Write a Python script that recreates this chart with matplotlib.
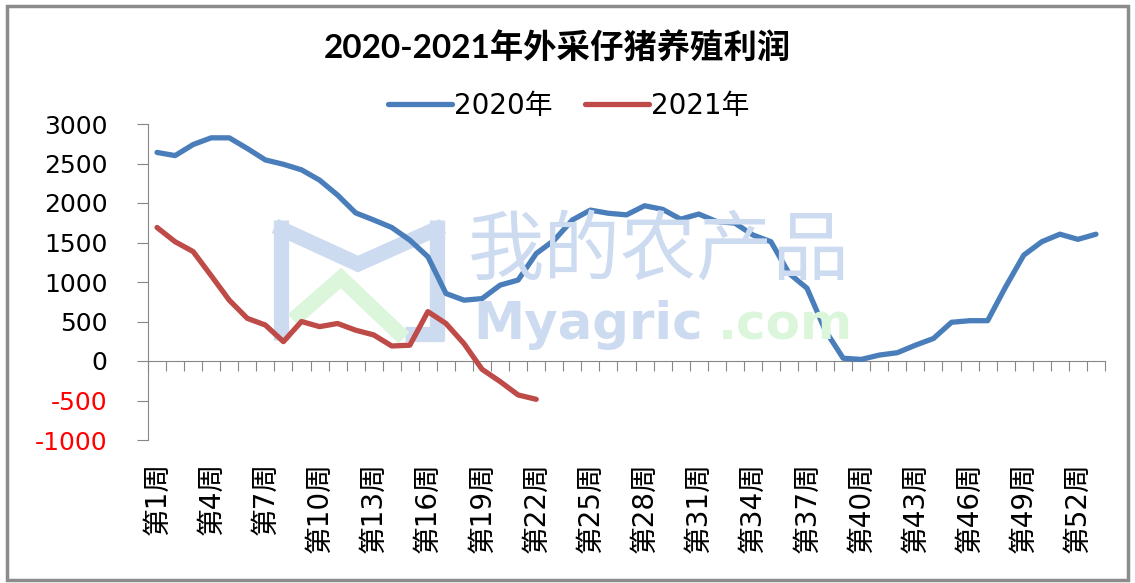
import numpy as np
from matplotlib import pyplot as plt
from matplotlib.patches import Rectangle
from matplotlib.lines import Line2D

plt.rcParams['font.family'] = ['DejaVu Sans', 'Noto Sans CJK SC']

# 周次 1..53
weeks = np.arange(1, 54)
week_labels = [f"第{w}周" for w in weeks]

# 2020年 外采仔猪养殖利润 (元/头)
profit_2020 = [2640, 2600, 2740, 2825, 2825, 2690, 2545, 2490, 2420, 2290,
               2100, 1875, 1785, 1690, 1530, 1320, 855, 770, 790, 960,
               1025, 1360, 1530, 1785, 1910, 1870, 1850, 1965, 1920, 1795,
               1860, 1765, 1745, 1595, 1510, 1110, 920, 390, 35, 20,
               75, 105, 200, 285, 490, 510, 510, 940, 1340, 1510,
               1605, 1540, 1605]

# 2021年 (到第22周)
profit_2021 = [1690, 1510, 1385, 1080, 770, 540, 455, 245, 500, 435,
               475, 390, 330, 190, 200, 625, 475, 220, -105, -260,
               -430, -485]

yticks = np.arange(-1000, 3001, 500)

W, H = 1135, 583
fig = plt.figure(figsize=(W / 100, H / 100), dpi=100)
ax = fig.add_axes([148 / W, 1 - 440 / H, (1105 - 148) / W, (440 - 124) / H])


def px(xs, ys):
    return [x / W for x in xs], [1 - y / H for y in ys]


# 水印 (logo + 文字)
wm_blue, wm_green = '#cddbf1', '#dbf6db'
for xs, ys, c in [([281, 281], [220, 340], wm_blue),
                  ([437, 437], [220, 340], wm_blue),
                  ([275, 358, 443], [226, 264, 226], wm_blue),
                  ([405, 444], [334, 334], wm_blue),
                  ([293, 341, 404], [320, 278, 338], wm_green)]:
    fx, fy = px(xs, ys)
    fig.add_artist(Line2D(fx, fy, color=c, lw=11, solid_capstyle='butt', solid_joinstyle='miter', zorder=0))
fig.text(468 / W, 1 - 254 / H, "我的农产品", fontsize=55, color=wm_blue, ha='left', va='center', zorder=0)
fig.text(473 / W, 1 - 339 / H, "Myagric", fontsize=37, fontweight='bold', color=wm_blue,
         ha='left', va='baseline', zorder=0)
fig.text(718 / W, 1 - 339 / H, ".com", fontsize=36, fontweight='bold', color=wm_green,
         ha='left', va='baseline', zorder=0)

ax.patch.set_alpha(0)
ax.plot(weeks, profit_2020, color='#4a7ebb', lw=3.8, label='2020年', solid_capstyle='round')
ax.plot(weeks[:len(profit_2021)], profit_2021, color='#be4b48', lw=3.8, label='2021年', solid_capstyle='round')

ax.set_xlim(0.5, 53.5)
ax.set_ylim(-1000, 3000)
ax.set_yticks(yticks)
ax.set_yticklabels([str(v) for v in yticks], fontsize=18)
for lab, v in zip(ax.get_yticklabels(), yticks):
    lab.set_color('red' if v < 0 else 'black')
ax.tick_params(axis='y', length=8, color='#868686', pad=21)

# x 标签在底部
ax.set_xticks(weeks[::3])
ax.set_xticklabels(week_labels[::3], rotation=90, fontsize=20)
ax.tick_params(axis='x', length=0, pad=16)

for s in ['top', 'right', 'bottom']:
    ax.spines[s].set_visible(False)
ax.spines['left'].set_color('#868686')

# 零线及刻度
zero_ax = ax.secondary_xaxis(1000 / 4000)
zero_ax.set_xticks(np.arange(0.5, 54, 1))
zero_ax.set_xticklabels([])
zero_ax.tick_params(length=7, color='#868686')
zero_ax.spines['bottom'].set_color('#868686')

fig.text(0.491, 1 - 47 / H, "2020-2021年外采仔猪养殖利润", fontsize=24, fontweight='bold',
         ha='center', va='center', family=['Lato', 'Noto Sans CJK SC'])
ax.legend(loc='center', bbox_to_anchor=(0.501, 1 - 106 / H), bbox_transform=fig.transFigure,
          ncol=2, frameon=False, fontsize=20, handlelength=2.3, columnspacing=1.2, handletextpad=0.05)

fig.patches.append(Rectangle((7 / W, 3 / H), 1121 / W, 574 / H, transform=fig.transFigure,
                             fill=False, edgecolor='#8c8c8c', lw=2.5))

plt.savefig('out.png', dpi=100)
